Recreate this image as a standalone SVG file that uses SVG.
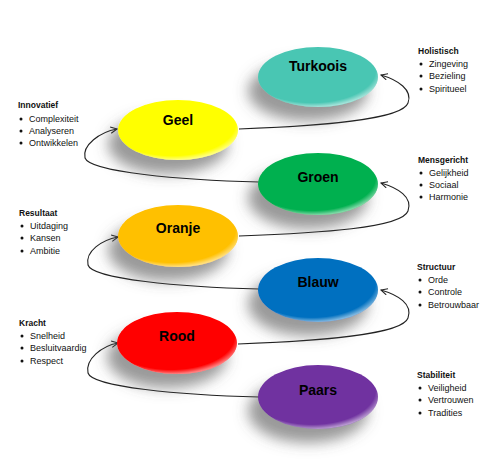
<svg xmlns="http://www.w3.org/2000/svg" width="501" height="470" viewBox="0 0 501 470">
<defs>
<filter id="sh" x="-40%" y="-40%" width="180%" height="220%">
<feDropShadow dx="-10" dy="14" stdDeviation="7" flood-color="#555" flood-opacity="0.6"/>
</filter>
<radialGradient id="gl" cx="0.45" cy="0.4" r="0.6">
<stop offset="0.88" stop-color="#fff" stop-opacity="0"/>
<stop offset="1" stop-color="#fff" stop-opacity="0.5"/>
</radialGradient>
<marker id="arr" viewBox="0 0 10 10" refX="9" refY="5" markerWidth="8" markerHeight="8" orient="auto" markerUnits="userSpaceOnUse">
<path d="M1,1 L9,5 L1,9" fill="none" stroke="#222" stroke-width="1.3"/>
</marker>
</defs>
<style>
.lbl{font-family:"Liberation Sans",Arial,sans-serif;font-weight:bold;font-size:14px;fill:#000;text-anchor:middle}
.h{font-family:"Liberation Sans",Arial,sans-serif;font-weight:bold;font-size:8.5px;fill:#111}
.it{font-family:"Liberation Sans",Arial,sans-serif;font-size:9px;fill:#111}
.con{fill:none;stroke:#222;stroke-width:1.1}
.gls{fill:url(#gl)}
</style>
<rect width="501" height="470" fill="#fff"/>
<g id="connectors">
<path class="con" marker-end="url(#arr)" d="M239,129 C320,126 402,120 408,103 C413,90 398,80 381,75"/>
<path class="con" marker-end="url(#arr)" d="M259,182 C180,180 90,172 85,158 C82,145 100,132 117,129"/>
<path class="con" marker-end="url(#arr)" d="M239,236 C320,233 402,228 408,211 C413,197 398,188 381,183"/>
<path class="con" marker-end="url(#arr)" d="M259,289 C180,287 92,279 88,265 C85,251 102,240 118,237"/>
<path class="con" marker-end="url(#arr)" d="M238,344 C320,341 402,335 408,318 C413,304 398,295 381,290"/>
<path class="con" marker-end="url(#arr)" d="M259,397 C180,395 92,387 88,373 C85,359 102,346 118,343"/>
</g>
<g id="turkoois">
<ellipse cx="318" cy="77" rx="60" ry="30" fill="#4AC6B3" filter="url(#sh)"/>
<ellipse class="gls" cx="318" cy="77" rx="60" ry="30"/>
<text class="lbl" x="318" y="71">Turkoois</text>
</g>
<g id="geel">
<ellipse cx="178" cy="130" rx="60" ry="30" fill="#FFFF00" filter="url(#sh)"/>
<ellipse class="gls" cx="178" cy="130" rx="60" ry="30"/>
<text class="lbl" x="178" y="125">Geel</text>
</g>
<g id="groen">
<ellipse cx="318" cy="184" rx="60" ry="31" fill="#00B050" filter="url(#sh)"/>
<ellipse class="gls" cx="318" cy="184" rx="60" ry="31"/>
<text class="lbl" x="318" y="182">Groen</text>
</g>
<g id="oranje">
<ellipse cx="178" cy="236" rx="60" ry="31" fill="#FFC000" filter="url(#sh)"/>
<ellipse class="gls" cx="178" cy="236" rx="60" ry="31"/>
<text class="lbl" x="178" y="233">Oranje</text>
</g>
<g id="blauw">
<ellipse cx="318" cy="290" rx="60" ry="32" fill="#0070C0" filter="url(#sh)"/>
<ellipse class="gls" cx="318" cy="290" rx="60" ry="32"/>
<text class="lbl" x="318" y="287">Blauw</text>
</g>
<g id="rood">
<ellipse cx="177" cy="343" rx="60" ry="31" fill="#FF0000" filter="url(#sh)"/>
<ellipse class="gls" cx="177" cy="343" rx="60" ry="31"/>
<text class="lbl" x="177" y="341">Rood</text>
</g>
<g id="paars">
<ellipse cx="318" cy="397" rx="60" ry="32" fill="#7030A0" filter="url(#sh)"/>
<ellipse class="gls" cx="318" cy="397" rx="60" ry="32"/>
<text class="lbl" x="318" y="395">Paars</text>
</g>
<g id="holistisch">
<text class="h" x="418" y="54">Holistisch</text>
<circle cx="421" cy="64" r="1.5" fill="#111"/><text class="it" x="429" y="67">Zingeving</text>
<circle cx="421" cy="76" r="1.5" fill="#111"/><text class="it" x="429" y="79">Bezieling</text>
<circle cx="421" cy="89" r="1.5" fill="#111"/><text class="it" x="429" y="92">Spiritueel</text>
</g>
<g id="innovatief">
<text class="h" x="18" y="108">Innovatief</text>
<circle cx="21" cy="119" r="1.5" fill="#111"/><text class="it" x="29" y="122">Complexiteit</text>
<circle cx="21" cy="131" r="1.5" fill="#111"/><text class="it" x="29" y="134">Analyseren</text>
<circle cx="21" cy="143" r="1.5" fill="#111"/><text class="it" x="29" y="146">Ontwikkelen</text>
</g>
<g id="mensgericht">
<text class="h" x="418" y="163">Mensgericht</text>
<circle cx="421" cy="173" r="1.5" fill="#111"/><text class="it" x="429" y="176">Gelijkheid</text>
<circle cx="421" cy="185" r="1.5" fill="#111"/><text class="it" x="429" y="188">Sociaal</text>
<circle cx="421" cy="197" r="1.5" fill="#111"/><text class="it" x="429" y="200">Harmonie</text>
</g>
<g id="resultaat">
<text class="h" x="19" y="216">Resultaat</text>
<circle cx="22" cy="226" r="1.5" fill="#111"/><text class="it" x="30" y="229">Uitdaging</text>
<circle cx="22" cy="238" r="1.5" fill="#111"/><text class="it" x="30" y="241">Kansen</text>
<circle cx="22" cy="251" r="1.5" fill="#111"/><text class="it" x="30" y="254">Ambitie</text>
</g>
<g id="structuur">
<text class="h" x="417" y="270">Structuur</text>
<circle cx="420" cy="280" r="1.5" fill="#111"/><text class="it" x="428" y="283">Orde</text>
<circle cx="420" cy="292" r="1.5" fill="#111"/><text class="it" x="428" y="295">Controle</text>
<circle cx="420" cy="305" r="1.5" fill="#111"/><text class="it" x="428" y="308">Betrouwbaar</text>
</g>
<g id="kracht">
<text class="h" x="19" y="326">Kracht</text>
<circle cx="22" cy="336" r="1.5" fill="#111"/><text class="it" x="30" y="339">Snelheid</text>
<circle cx="22" cy="348" r="1.5" fill="#111"/><text class="it" x="30" y="351">Besluitvaardig</text>
<circle cx="22" cy="361" r="1.5" fill="#111"/><text class="it" x="30" y="364">Respect</text>
</g>
<g id="stabiliteit">
<text class="h" x="417" y="378">Stabiliteit</text>
<circle cx="420" cy="388" r="1.5" fill="#111"/><text class="it" x="428" y="391">Veiligheid</text>
<circle cx="420" cy="400" r="1.5" fill="#111"/><text class="it" x="428" y="403">Vertrouwen</text>
<circle cx="420" cy="413" r="1.5" fill="#111"/><text class="it" x="428" y="416">Tradities</text>
</g>
</svg>
